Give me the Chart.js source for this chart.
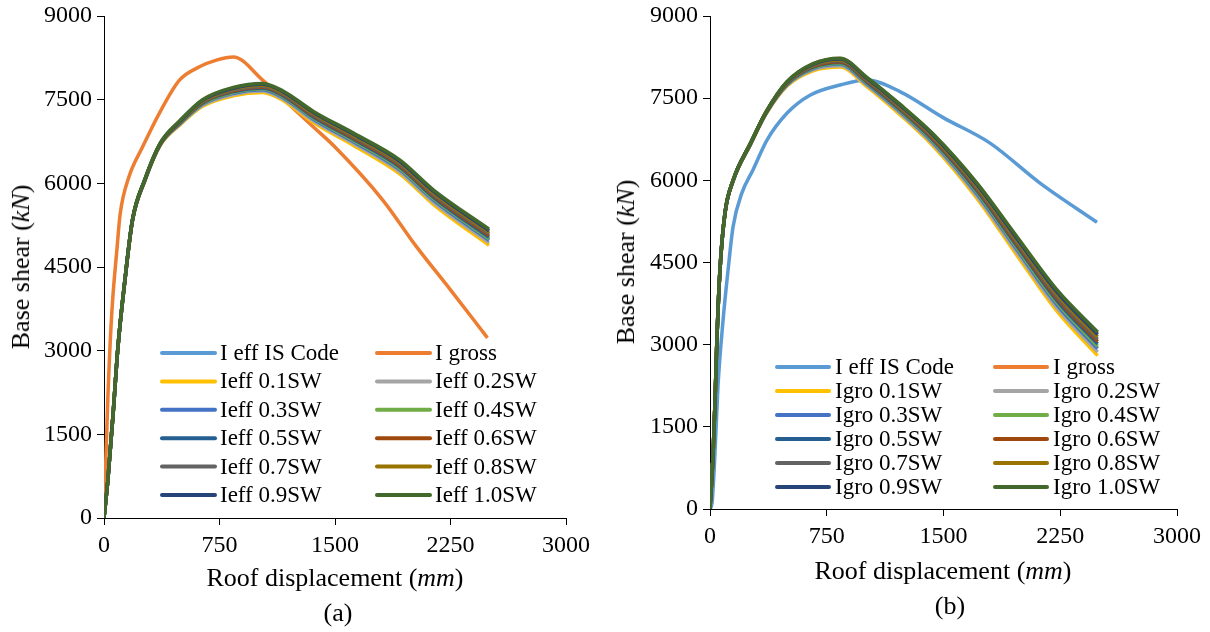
<!DOCTYPE html>
<html>
<head>
<meta charset="utf-8">
<script src="https://cdn.jsdelivr.net/npm/chart.js@4.4.1/dist/chart.umd.min.js"></script>
<style>
  body { margin:0; background:#fff; width:1210px; height:632px; overflow:hidden; position:relative;
         font-family:'Liberation Serif','Times New Roman',serif; color:#000; }
  canvas { position:absolute; top:0; }
  #chartA { left:0; }
  #chartB { left:605px; }
  .lbl { position:absolute; font-size:26px; white-space:nowrap; line-height:1; transform:translate(-50%,-50%); }
  .ylbl { transform:translate(-50%,-50%) rotate(-90deg); }
</style>
</head>
<body>
<canvas id="chartA" width="605" height="632"></canvas>
<canvas id="chartB" width="605" height="632"></canvas>
<div class="lbl ylbl" style="left:21px;top:267px">Base shear (<i>kN</i>)</div>
<div class="lbl" style="left:335px;top:578px">Roof displacement (<i>mm</i>)</div>
<div class="lbl" style="left:338px;top:613px">(a)</div>
<div class="lbl ylbl" style="left:626px;top:262px">Base shear (<i>kN</i>)</div>
<div class="lbl" style="left:943px;top:571px">Roof displacement (<i>mm</i>)</div>
<div class="lbl" style="left:950px;top:606px">(b)</div>
<script>
// axis ticks
const xTicks = [0, 750, 1500, 2250, 3000];
const yTicks = [0, 1500, 3000, 4500, 6000, 7500, 9000];

// legend labels (row by row, two columns)
const labelsA = ['I eff IS Code', 'I gross', 'Ieff 0.1SW', 'Ieff 0.2SW', 'Ieff 0.3SW', 'Ieff 0.4SW',
                 'Ieff 0.5SW', 'Ieff 0.6SW', 'Ieff 0.7SW', 'Ieff 0.8SW', 'Ieff 0.9SW', 'Ieff 1.0SW'];
const labelsB = ['I eff IS Code', 'I gross', 'Igro 0.1SW', 'Igro 0.2SW', 'Igro 0.3SW', 'Igro 0.4SW',
                 'Igro 0.5SW', 'Igro 0.6SW', 'Igro 0.7SW', 'Igro 0.8SW', 'Igro 0.9SW', 'Igro 1.0SW'];
const colors = ['#5B9BD5', '#ED7D31', '#FFC000', '#A5A5A5', '#4472C4', '#70AD47',
                '#255E91', '#9E480E', '#636363', '#997300', '#264478', '#43682B'];

// (a) roof displacement (mm) shared by the Ieff curves
const dispEffA = [0, 25, 60, 90, 135, 185, 265, 365, 495, 640, 840, 1030, 1160, 1360, 1620, 1920, 2140, 2500];
const shearA_IS  = [0, 680, 1900, 3044, 4240, 5337, 6050, 6694, 7078, 7422, 7622, 7686, 7550, 7160, 6757, 6257, 5711, 4991];
const shearA_01  = [0, 680, 1900, 3040, 4235, 5330, 6040, 6680, 7050, 7380, 7570, 7630, 7490, 7090, 6680, 6170, 5620, 4890];
const shearA_02  = [0, 680, 1900, 3042, 4237, 5333, 6045, 6686, 7062, 7398, 7592, 7654, 7515, 7120, 6713, 6208, 5659, 4934];
const shearA_03  = [0, 680, 1900, 3043, 4240, 5336, 6049, 6692, 7074, 7416, 7615, 7678, 7541, 7150, 6746, 6245, 5698, 4977];
const shearA_04  = [0, 680, 1900, 3044, 4241, 5338, 6052, 6696, 7082, 7428, 7630, 7694, 7558, 7170, 6768, 6270, 5724, 5006];
const shearA_05  = [0, 680, 1900, 3045, 4242, 5340, 6055, 6700, 7090, 7440, 7645, 7710, 7575, 7190, 6790, 6295, 5750, 5035];
const shearA_06  = [0, 680, 1900, 3046, 4244, 5342, 6058, 6704, 7098, 7452, 7660, 7726, 7592, 7210, 6812, 6320, 5776, 5064];
const shearA_07  = [0, 680, 1900, 3047, 4245, 5344, 6061, 6708, 7106, 7464, 7675, 7742, 7609, 7230, 6834, 6345, 5802, 5093];
const shearA_08  = [0, 680, 1900, 3048, 4247, 5346, 6064, 6712, 7114, 7476, 7690, 7758, 7626, 7250, 6856, 6370, 5828, 5122];
const shearA_09  = [0, 680, 1900, 3050, 4250, 5350, 6065, 6715, 7120, 7490, 7705, 7775, 7645, 7270, 6880, 6395, 5855, 5150];
const shearA_10  = [0, 680, 1900, 3050, 4250, 5350, 6070, 6720, 7130, 7500, 7720, 7790, 7660, 7290, 6900, 6420, 5880, 5180];
// (a) I gross
const dispGrossA  = [0, 25, 50, 85, 105, 160, 250, 360, 490, 620, 730, 840, 1030, 1200, 1360, 1500, 1810, 2030, 2250, 2490];
const shearGrossA = [0, 2150, 3650, 4850, 5450, 6100, 6650, 7260, 7850, 8090, 8210, 8265, 7850, 7420, 7010, 6650, 5700, 4860, 4090, 3230];

// (b) roof displacement (mm) shared by the Igro curves and I gross
const dispGroB = [0, 20, 32, 45, 64, 96, 148, 260, 360, 494, 662, 835, 1008, 1220, 1432, 1715, 1972, 2229, 2490];
const shearB_gross = [0, 1000, 1935, 3140, 4360, 5400, 5999, 6678, 7248, 7796, 8124, 8222, 7872, 7380, 6839, 5936, 4953, 3980, 3208];
const shearB_01 = [0, 1000, 1935, 3140, 4360, 5390, 5980, 6650, 7210, 7720, 8000, 8070, 7710, 7200, 6630, 5670, 4630, 3610, 2800];
const shearB_02 = [0, 1000, 1935, 3140, 4360, 5392, 5983, 6655, 7216, 7732, 8020, 8094, 7736, 7229, 6663, 5712, 4681, 3669, 2865];
const shearB_03 = [0, 1000, 1935, 3140, 4360, 5393, 5986, 6659, 7222, 7744, 8039, 8118, 7761, 7257, 6696, 5754, 4732, 3727, 2929];
const shearB_04 = [0, 1000, 1935, 3140, 4360, 5394, 5988, 6662, 7226, 7752, 8052, 8134, 7778, 7276, 6718, 5782, 4766, 3766, 2972];
const shearB_05 = [0, 1000, 1935, 3140, 4360, 5395, 5990, 6665, 7230, 7760, 8065, 8150, 7795, 7295, 6740, 5810, 4800, 3805, 3015];
const shearB_06 = [0, 1000, 1935, 3140, 4360, 5396, 5992, 6668, 7234, 7768, 8078, 8166, 7812, 7314, 6762, 5838, 4834, 3844, 3058];
const shearB_07 = [0, 1000, 1935, 3140, 4360, 5397, 5994, 6671, 7238, 7776, 8091, 8182, 7829, 7333, 6784, 5866, 4868, 3883, 3101];
const shearB_08 = [0, 1000, 1935, 3140, 4360, 5398, 5996, 6674, 7242, 7784, 8104, 8198, 7846, 7352, 6806, 5894, 4902, 3922, 3144];
const shearB_09 = [0, 1000, 1935, 3140, 4360, 5399, 5998, 6677, 7246, 7792, 8117, 8214, 7863, 7371, 6828, 5922, 4936, 3961, 3187];
const shearB_10 = [0, 1000, 1935, 3140, 4360, 5400, 6000, 6680, 7250, 7800, 8130, 8230, 7880, 7390, 6850, 5950, 4970, 4000, 3230];
// (b) I eff IS Code
const dispCodeB  = [0, 13, 32, 51, 84, 116, 148, 205, 276, 366, 494, 642, 835, 1008, 1220, 1498, 1799, 2120, 2486];
const shearCodeB = [0, 110, 1020, 2230, 3450, 4360, 5150, 5770, 6190, 6735, 7225, 7555, 7740, 7830, 7620, 7145, 6680, 5950, 5235];

const serif = "'Liberation Serif', 'Times New Roman', serif";

function pts(xs, ys) {
    return xs.map((x, i) => ({ x: x, y: ys[i] }));
}

// legend drawn inside the plot, two columns like the original
const insideLegend = {
    id: 'insideLegend',
    afterDraw(chart, args, opts) {
        const ctx = chart.ctx;
        ctx.save();
        ctx.font = '23px ' + serif;
        ctx.textBaseline = 'middle';
        ctx.lineCap = 'round';
        opts.labels.forEach((text, i) => {
            const x0 = opts.cols[i % 2];
            const y = opts.top + Math.floor(i / 2) * opts.rowGap;
            ctx.strokeStyle = colors[i];
            ctx.lineWidth = 4;
            ctx.beginPath();
            ctx.moveTo(x0, y);
            ctx.lineTo(x0 + opts.lineLen, y);
            ctx.stroke();
            ctx.fillStyle = '#000';
            ctx.fillText(text, x0 + opts.lineLen + opts.gap, y + 1);
        });
        ctx.restore();
    }
};

function makeChart(id, series, legend, box) {
    const datasets = series.map((s, i) => ({
        label: legend.labels[i],
        data: s,
        borderColor: colors[i],
        borderWidth: 3.5,
        pointRadius: 0,
        fill: false,
        cubicInterpolationMode: 'monotone',
        order: -i   // later series drawn on top, as in the original
    }));
    return new Chart(document.getElementById(id), {
        type: 'line',
        data: { datasets: datasets },
        plugins: [insideLegend],
        options: {
            responsive: false,
            animation: false,
            devicePixelRatio: 1,
            layout: { padding: box.padding },
            plugins: {
                legend: { display: false },
                tooltip: { enabled: false },
                insideLegend: legend
            },
            scales: {
                x: {
                    type: 'linear', min: 0, max: 3000,
                    afterBuildTicks: s => { s.ticks = xTicks.map(v => ({ value: v })); },
                    afterFit: s => { s.height = box.xh; },
                    grid: { drawOnChartArea: false, drawTicks: true, tickLength: 7, color: '#000', lineWidth: 1 },
                    border: { display: true, color: '#000', width: 1 },
                    ticks: { color: '#000', font: { family: serif, size: 24 }, padding: 6, maxRotation: 0,
                             autoSkip: false, callback: v => String(v) }
                },
                y: {
                    type: 'linear', min: 0, max: 9000,
                    afterBuildTicks: s => { s.ticks = yTicks.map(v => ({ value: v })); },
                    afterFit: s => { s.width = box.yw; },
                    grid: { drawOnChartArea: false, drawTicks: true, tickLength: 7, color: '#000', lineWidth: 1 },
                    border: { display: true, color: '#000', width: 1 },
                    ticks: { color: '#000', font: { family: serif, size: 24, lineHeight: 0.8 }, padding: 5,
                             autoSkip: false, callback: v => String(v) }
                }
            }
        }
    });
}

makeChart('chartA', [
    pts(dispEffA, shearA_IS), pts(dispGrossA, shearGrossA),
    pts(dispEffA, shearA_01), pts(dispEffA, shearA_02), pts(dispEffA, shearA_03), pts(dispEffA, shearA_04),
    pts(dispEffA, shearA_05), pts(dispEffA, shearA_06), pts(dispEffA, shearA_07), pts(dispEffA, shearA_08),
    pts(dispEffA, shearA_09), pts(dispEffA, shearA_10)
], { labels: labelsA, cols: [162, 377], top: 353, rowGap: 28.4, lineLen: 53, gap: 5 },
   { padding: { left: 0, right: 39, top: 16, bottom: 0 }, yw: 104, xh: 114 });

makeChart('chartB', [
    pts(dispCodeB, shearCodeB), pts(dispGroB, shearB_gross),
    pts(dispGroB, shearB_01), pts(dispGroB, shearB_02), pts(dispGroB, shearB_03), pts(dispGroB, shearB_04),
    pts(dispGroB, shearB_05), pts(dispGroB, shearB_06), pts(dispGroB, shearB_07), pts(dispGroB, shearB_08),
    pts(dispGroB, shearB_09), pts(dispGroB, shearB_10)
], { labels: labelsB, cols: [172, 390], top: 367, rowGap: 24, lineLen: 52, gap: 6 },
   { padding: { left: 0, right: 33, top: 16, bottom: 0 }, yw: 105, xh: 123 });
</script>
</body>
</html>
